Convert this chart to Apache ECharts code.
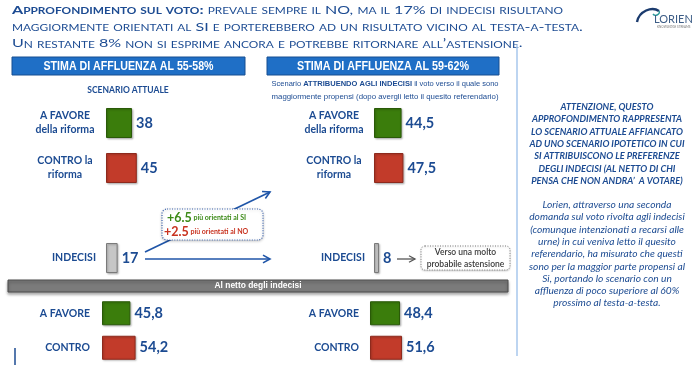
<!DOCTYPE html>
<html><head><meta charset="utf-8">
<script src="https://cdn.jsdelivr.net/npm/echarts@6/dist/echarts.min.js"></script>
<style>html,body{margin:0;padding:0;background:#fff}#c{width:700px;height:365px}</style>
</head><body><div id="c"></div>
<script>
// ---------- data ----------
const topCategories = ['A FAVORE\ndella riforma', 'CONTRO la\nriforma', '', 'INDECISI'];
const scenarioAttuale = [38, 45, null, 17];
const scenarioIpotetico = [44.5, 47.5, null, 8];
const bottomCategories = ['A FAVORE', 'CONTRO'];
const nettoAttuale = [45.8, 54.2];
const nettoIpotetico = [48.4, 51.6];
const shiftSi = '+6.5';
const shiftNo = '+2.5';
const headerLeft = 'STIMA DI AFFLUENZA AL 55-58%';
const headerRight = 'STIMA DI AFFLUENZA AL 59-62%';

// ---------- styles ----------
const BLUE = '#1c4b92';
const FONT = 'Lato, "Open Sans", sans-serif';
const topColors = ['#3b7d0c', '#c23b2a', null, '#c6c6c6'];
const topBorders = ['#2a5a08', '#8e2a1d', null, '#7a7a7a'];
const botColors = ['#3b7d0c', '#c23b2a'];
const botBorders = ['#2a5a08', '#8e2a1d'];

const ctx = document.createElement('canvas').getContext('2d');
function tw(text, font) { ctx.font = font; return ctx.measureText(text).width; }

function items(vals, cols, bords) {
  return vals.map((v, i) => v == null ? null : ({ value: v, itemStyle: { color: cols[i], borderColor: bords[i], borderWidth: 1, shadowBlur: 2, shadowColor: 'rgba(0,0,0,0.25)', shadowOffsetX: 1, shadowOffsetY: 1 } }));
}
function barSeries(idx, vals, cols, bords, bw) {
  return {
    type: 'bar', xAxisIndex: idx, yAxisIndex: idx, barWidth: bw,
    data: items(vals, cols, bords),
    label: { show: true, position: 'right', distance: 4, color: BLUE, fontFamily: FONT, fontWeight: 'bold', fontSize: 14.5,
      formatter: p => p.value == null ? '' : String(p.value).replace('.', ',') }
  };
}
const grids = [
  { left: 106, top: 100.5, width: 68.5, height: 180 },
  { left: 374, top: 100.5, width: 62, height: 180 },
  { left: 102, top: 296, width: 62, height: 71 },
  { left: 370, top: 296, width: 62, height: 71 }
];
const xAxes = grids.map((g, i) => ({ type: 'value', gridIndex: i, min: 0, max: 100, show: false }));
const topCatItems = topCategories.map(c => c === 'INDECISI' ? { value: c, textStyle: { align: 'center', padding: [0, 0, 0, 18] } } : c);
function yAx(i, cats, align, margin) {
  return { type: 'category', gridIndex: i, inverse: true, data: cats,
    axisLine: { show: false }, axisTick: { show: false }, splitLine: { show: false },
    axisLabel: { align: align, margin: margin, color: BLUE, fontFamily: FONT, fontWeight: 'bold', fontSize: 10.5, lineHeight: 14 } };
}
const yAxes = [yAx(0, topCatItems, 'center', 41), yAx(1, topCatItems, 'center', 40), yAx(2, bottomCategories, 'right', 12), yAx(3, bottomCategories, 'right', 11)];

// ---------- title (small caps) ----------
const SZ = { B: 11.5, s: 8.5, Bb: 11.5, sb: 8.5 };
const tf = {};
for (const k in SZ) tf[k] = (k === 'Bb' || k === 'sb' ? 'bold ' : '') + SZ[k] + 'px ' + FONT;
function smallCaps(str, big, small) {
  let out = '', cur = null, buf = '', width = 0;
  const flush = () => { if (buf) { out += '{' + cur + '|' + buf + '}'; width += tw(buf, tf[cur]); } buf = ''; };
  for (const ch of str) {
    const lower = ch !== ch.toUpperCase();
    const t = lower ? small : big;
    if (t !== cur) { flush(); cur = t; }
    buf += lower ? ch.toUpperCase() : ch;
  }
  flush();
  return { s: out, w: width };
}
function join(...parts) { return { s: parts.map(p => p.s).join(''), w: parts.reduce((a, p) => a + p.w, 0) }; }
const t1 = join(smallCaps('Approfondimento sul voto:', 'Bb', 'sb'), smallCaps(' prevale sempre il NO, ma il 17% di indecisi risultano', 'B', 's'));
const t2 = smallCaps('maggiormente orientati al SI e porterebbero ad un risultato vicino al testa-a-testa.', 'B', 's');
const t3 = smallCaps('Un restante 8% non si esprime ancora e potrebbe ritornare all’astensione.', 'B', 's');
const titleScale = 551 / t1.w;
const richTitle = {};
for (const k in SZ) richTitle[k] = { font: tf[k], fill: BLUE, lineHeight: 14, verticalAlign: 'bottom' };
function titleLine(t, y) {
  return { type: 'text', x: 12, y: y, scaleX: titleScale, style: { text: t.s, rich: richTitle, fill: BLUE, textVerticalAlign: 'middle', textAlign: 'left' } };
}

// ---------- helpers ----------
function scaledText(text, font, target, x, y, extra) {
  const s = target / tw(text, font);
  return { type: 'text', x: x, y: y, scaleX: s, style: Object.assign({ text: text, font: font, textAlign: 'center', textVerticalAlign: 'middle' }, extra || {}) };
}
function arrow(x1, y1, x2, y2, color, lw, h) {
  const a = Math.atan2(y2 - y1, x2 - x1), wd = h * 0.55;
  const bx = x2 - h * Math.cos(a), by = y2 - h * Math.sin(a);
  const px = -Math.sin(a) * wd, py = Math.cos(a) * wd;
  return [
    { type: 'line', shape: { x1: x1, y1: y1, x2: x2, y2: y2 }, style: { stroke: color, lineWidth: lw } },
    { type: 'polyline', shape: { points: [[bx + px, by + py], [x2, y2], [bx - px, by - py]] }, style: { stroke: color, lineWidth: lw, fill: null } }
  ];
}
const hFont = 'bold 13px "Liberation Sans", Arial, sans-serif';
const subN = '7.5px "Liberation Sans", Arial, sans-serif';
const subB = 'bold 7.5px "Liberation Sans", Arial, sans-serif';
function subLine(parts, y) {
  const w = parts.reduce((a, p) => a + tw(p[1], p[0] === 'b' ? subB : subN), 0);
  return { type: 'text', x: 385, y: y, scaleX: 227 / w, style: { text: parts.map(p => '{' + p[0] + '|' + p[1] + '}').join(''), textAlign: 'center', textVerticalAlign: 'middle', fill: BLUE,
    rich: { n: { font: subN, fill: BLUE }, b: { font: subB, fill: BLUE } } } };
}
const rightBold = ['ATTENZIONE, QUESTO', 'APPROFONDIMENTO RAPPRESENTA', 'LO SCENARIO ATTUALE AFFIANCATO', 'AD UNO SCENARIO IPOTETICO IN CUI', 'SI ATTRIBUISCONO LE PREFERENZE', 'DEGLI INDECISI (AL NETTO DI CHI', 'PENSA CHE NON ANDRA’  A VOTARE)'];
const rightItal = ['Lorien, attraverso una seconda', 'domanda sul voto rivolta agli indecisi', '(comunque intenzionati a recarsi alle', 'urne) in cui veniva letto il quesito', 'referendario, ha misurato che questi', 'sono per la maggior parte propensi al', 'Si, portando lo scenario con un', 'affluenza di poco superiore al 60%', 'prossimo al testa-a-testa.'];
const rbFont = 'italic bold 9.5px ' + FONT;
const riFont = 'italic 9.5px ' + FONT;
const rbScale = 152 / tw(rightBold[2], rbFont);
const riScale = 156 / tw(rightItal[5], riFont);

const graphics = [
  titleLine(t1, 9), titleLine(t2, 26), titleLine(t3, 42.5),
  // logo
  { type: 'bezierCurve', shape: { x1: 637, y1: 22, cpx1: 639, cpy1: 11, cpx2: 652, cpy2: 6, x2: 659, y2: 11 }, style: { stroke: '#1b3b6e', lineWidth: 2.4, fill: null } },
  { type: 'bezierCurve', shape: { x1: 659, y1: 11, cpx1: 661, cpy1: 14, cpx2: 655, cpy2: 17, x2: 653, y2: 14 }, style: { stroke: '#2a9a9a', lineWidth: 1.4, fill: null } },
  { type: 'text', x: 654, y: 19, style: { text: 'LORIEN', font: '11px ' + FONT, fill: '#3d5d86', textVerticalAlign: 'middle' } },
  { type: 'text', x: 657, y: 27.5, style: { text: 'KNOWLEDGE STREAMS', font: '3px ' + FONT, fill: '#777', textVerticalAlign: 'middle' } },
  // headers
  { type: 'rect', shape: { x: 12, y: 57, width: 233, height: 18 }, style: { fill: '#1f6fc6', stroke: '#164f91', lineWidth: 1 } },
  { type: 'rect', shape: { x: 267, y: 57, width: 232, height: 18 }, style: { fill: '#1f6fc6', stroke: '#164f91', lineWidth: 1 } },
  scaledText(headerLeft, hFont, 170, 128.5, 66.5, { fill: '#fff' }),
  scaledText(headerRight, hFont, 172, 383, 66.5, { fill: '#fff' }),
  { type: 'text', x: 128, y: 90, style: { text: 'SCENARIO ATTUALE', font: 'bold 8.5px ' + FONT, fill: BLUE, textAlign: 'center', textVerticalAlign: 'middle' } },
  subLine([['n', 'Scenario '], ['b', 'ATTRIBUENDO AGLI INDECISI'], ['n', ' il voto verso il quale sono']], 84),
  subLine([['n', 'maggiormente propensi (dopo avergli letto il quesito referendario)']], 97),
  // arrows
  ...arrow(145, 252, 270, 192, '#1f55a8', 1.6, 7),
  ...arrow(145, 259, 270, 259, '#1f55a8', 1.6, 7),
  ...arrow(397, 259, 415, 259, '#555', 1.3, 6),
  // callout
  { type: 'rect', shape: { x: 162, y: 209, width: 101, height: 31, r: 5 }, style: { fill: '#fff', stroke: '#3b63b0', lineWidth: 1.2, lineDash: [1, 1.5], shadowBlur: 3, shadowColor: 'rgba(0,0,0,0.25)', shadowOffsetY: 1 } },
  { type: 'text', x: 167, y: 218, style: { text: '{a|' + shiftSi + '}{b| più orientati al SI}', textVerticalAlign: 'middle', fill: '#3c8a17', rich: { a: { font: 'bold 12.5px ' + FONT, fill: '#3c8a17' }, b: { font: 'bold 7px ' + FONT, fill: '#3c8a17' } } } },
  { type: 'text', x: 164, y: 232, style: { text: '{a|' + shiftNo + '}{b| più orientati al NO}', textVerticalAlign: 'middle', fill: '#c8321f', rich: { a: { font: 'bold 12.5px ' + FONT, fill: '#c8321f' }, b: { font: 'bold 7px ' + FONT, fill: '#c8321f' } } } },
  // astensione box
  { type: 'rect', shape: { x: 421, y: 246, width: 89, height: 24, r: 4 }, style: { fill: '#fff', stroke: '#777', lineWidth: 1, lineDash: [1, 1.5], shadowBlur: 2, shadowColor: 'rgba(0,0,0,0.2)', shadowOffsetY: 1 } },
  { type: 'text', x: 465.5, y: 258, style: { text: 'Verso una molto\nprobabile astensione', font: '600 8.5px ' + FONT, fill: '#3a3a3a', textAlign: 'center', textVerticalAlign: 'middle', lineHeight: 12 } },
  // gray bar
  { type: 'rect', shape: { x: 8, y: 280, width: 500, height: 12 }, style: { fill: '#7b7b7b', stroke: '#4d4d4d', lineWidth: 1, shadowBlur: 3, shadowColor: 'rgba(0,0,0,0.35)', shadowOffsetY: 2 } },
  scaledText('Al netto degli indecisi', 'bold 9px "Liberation Sans", Arial, sans-serif', 87, 258, 286, { fill: '#fff' }),
  // dividers
  { type: 'line', shape: { x1: 517, y1: 45, x2: 517, y2: 356 }, style: { stroke: '#a7c7ec', lineWidth: 1.5 } },
  { type: 'line', shape: { x1: 15, y1: 348, x2: 15, y2: 365 }, style: { stroke: BLUE, lineWidth: 1.5 } },
  // right text
  { type: 'text', x: 607, y: 100.85, scaleX: rbScale, style: { text: rightBold.join('\n'), font: rbFont, fill: BLUE, textAlign: 'center', textVerticalAlign: 'top', lineHeight: 12.3 } },
  { type: 'text', x: 607, y: 198.85, scaleX: riScale, style: { text: rightItal.join('\n'), font: riFont, fill: BLUE, textAlign: 'center', textVerticalAlign: 'top', lineHeight: 12.3 } }
];

const chart = echarts.init(document.getElementById('c'));
chart.setOption({
  animation: false,
  grid: grids,
  xAxis: xAxes,
  yAxis: yAxes,
  series: [
    barSeries(0, scenarioAttuale, topColors, topBorders, 30),
    barSeries(1, scenarioIpotetico, topColors, topBorders, 30),
    barSeries(2, nettoAttuale, botColors, botBorders, 24),
    barSeries(3, nettoIpotetico, botColors, botBorders, 24)
  ],
  graphic: graphics
});
</script>
</body></html>
